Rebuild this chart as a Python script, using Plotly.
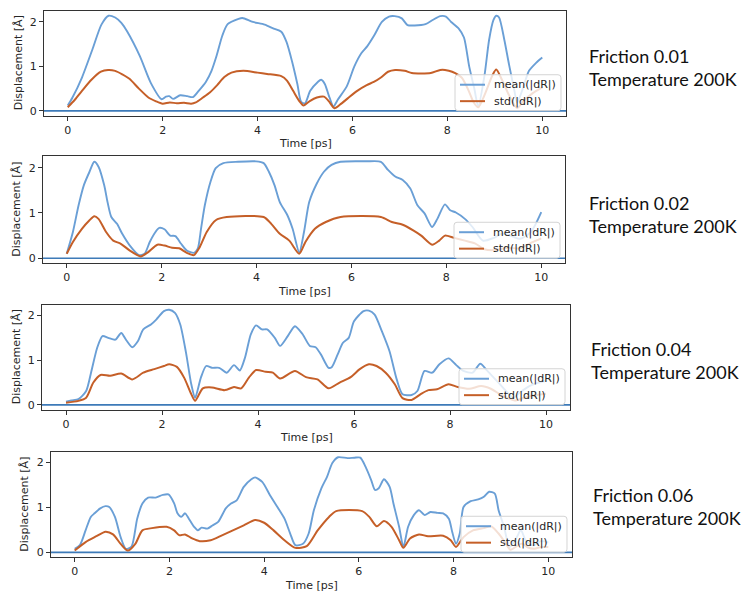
import plotly.graph_objects as go

W, H = 745, 595

# ---------------- data: mean / std of |dR| over time, four friction values ----------------
frictions = ["0.01", "0.02", "0.04", "0.06"]
temperature = "200K"
series_names = ["mean(|dR|)", "std(|dR|)"]

t_mean_001 = [0, 0.1, 0.3, 0.52, 0.71, 0.86, 1.0, 1.13, 1.25, 1.52, 1.75, 1.98, 2.07, 2.14, 2.22,
              2.37, 2.52, 2.64, 2.76, 2.91, 3.03, 3.14, 3.26, 3.37, 3.6, 3.68, 3.9, 4.15, 4.34, 4.5,
              4.61, 4.73, 4.84, 4.92, 5.0, 5.11, 5.27, 5.34, 5.42, 5.5, 5.6, 5.69, 5.88, 6.04, 6.19,
              6.31, 6.46, 6.62, 6.77, 6.89, 7.04, 7.16, 7.31, 7.54, 7.7, 7.85, 7.97, 8.08, 8.24,
              8.35, 8.46, 8.57, 8.65, 8.78, 8.88, 8.97, 9.03, 9.09, 9.2, 9.3, 9.41, 9.47, 9.58,
              9.72, 9.87, 10.0]
mean_001 = [0.12, 0.3, 0.75, 1.38, 1.94, 2.14, 2.1, 1.98, 1.79, 1.23, 0.63, 0.26, 0.32, 0.33, 0.27,
            0.35, 0.33, 0.31, 0.45, 0.65, 0.9, 1.25, 1.7, 1.95, 2.07, 2.09, 2.0, 1.94, 1.85, 1.78,
            1.55, 1.1, 0.6, 0.2, 0.17, 0.45, 0.65, 0.7, 0.6, 0.35, 0.1, 0.25, 0.55, 1.0, 1.3,
            1.45, 1.7, 2.0, 2.12, 2.13, 2.08, 1.93, 1.92, 1.95, 2.05, 2.13, 2.12, 2.0, 1.85,
            1.65, 1.0, 0.49, 0.1, 0.78, 1.6, 2.04, 2.14, 2.1, 1.6, 1.04, 0.47, 0.18, 0.47,
            0.9, 1.08, 1.2]
t_std_001 = [0, 0.15, 0.3, 0.5, 0.7, 0.85, 1.0, 1.15, 1.3, 1.5, 1.7, 1.85, 2.0, 2.15, 2.3, 2.45,
             2.6, 2.7, 2.85, 3.0, 3.15, 3.3, 3.45, 3.7, 4.0, 4.2, 4.5, 4.62, 4.75, 4.88, 4.97,
             5.1, 5.25, 5.4, 5.5, 5.62, 5.75, 5.9, 6.1, 6.3, 6.45, 6.6, 6.75, 6.9, 7.1, 7.25,
             7.45, 7.65, 7.85, 7.95, 8.1, 8.3, 8.45, 8.55, 8.65, 8.8, 8.95, 9.03, 9.15, 9.3,
             9.47, 9.6, 9.8, 10.0]
std_001 = [0.08, 0.25, 0.45, 0.7, 0.88, 0.92, 0.9, 0.82, 0.72, 0.5, 0.3, 0.22, 0.16, 0.19, 0.17,
           0.18, 0.16, 0.19, 0.3, 0.42, 0.58, 0.76, 0.86, 0.9, 0.86, 0.83, 0.78, 0.68, 0.45,
           0.22, 0.12, 0.22, 0.3, 0.32, 0.22, 0.06, 0.15, 0.28, 0.45, 0.58, 0.65, 0.75, 0.88,
           0.92, 0.9, 0.85, 0.84, 0.85, 0.92, 0.92, 0.88, 0.75, 0.45, 0.2, 0.08, 0.4, 0.8,
           0.93, 0.7, 0.35, 0.06, 0.22, 0.4, 0.53]

t_mean_002 = [0, 0.13, 0.25, 0.36, 0.48, 0.58, 0.67, 0.79, 0.86, 0.94, 1.06, 1.17, 1.33, 1.52,
              1.64, 1.75, 1.87, 1.95, 2.06, 2.18, 2.29, 2.41, 2.53, 2.68, 2.76, 2.83, 2.91, 3.03,
              3.14, 3.3, 3.61, 3.99, 4.15, 4.26, 4.38, 4.49, 4.65, 4.76, 4.9, 5.0, 5.11, 5.27,
              5.42, 5.58, 5.77, 6.31, 6.62, 6.77, 6.93, 7.08, 7.24, 7.39, 7.54, 7.7, 7.81, 7.97,
              8.08, 8.2, 8.39, 8.55, 8.77, 9.0, 9.17, 9.35, 9.55, 9.78, 10.0]
mean_002 = [0.1, 0.58, 1.17, 1.61, 1.91, 2.13, 2.02, 1.61, 1.24, 0.91, 0.76, 0.54, 0.28, 0.07,
            0.1, 0.36, 0.58, 0.67, 0.64, 0.5, 0.49, 0.32, 0.17, 0.12, 0.21, 0.65, 1.17, 1.69,
            1.99, 2.1, 2.13, 2.14, 2.1, 1.91, 1.61, 1.24, 0.95, 0.65, 0.13, 0.58, 1.24, 1.65,
            1.91, 2.06, 2.13, 2.14, 2.13, 1.95, 1.8, 1.73, 1.54, 1.17, 0.99, 0.69, 0.87, 1.19,
            1.06, 1.01, 0.87, 0.69, 0.39, 0.45, 0.54, 0.5, 0.43, 0.58, 1.02]
t_std_002 = [0, 0.13, 0.32, 0.48, 0.58, 0.67, 0.83, 0.98, 1.14, 1.33, 1.56, 1.71, 1.91, 2.06,
             2.22, 2.37, 2.53, 2.68, 2.8, 2.95, 3.14, 3.37, 4.15, 4.31, 4.49, 4.69, 4.9, 5.03,
             5.23, 5.46, 5.77, 6.62, 6.85, 7.08, 7.31, 7.47, 7.7, 7.85, 7.97, 8.16, 8.39, 8.6,
             8.8, 9.0, 9.3, 9.55, 9.8, 10.0]
std_002 = [0.1, 0.36, 0.65, 0.84, 0.93, 0.87, 0.58, 0.39, 0.32, 0.17, 0.04, 0.13, 0.3, 0.28,
           0.23, 0.22, 0.12, 0.07, 0.24, 0.58, 0.84, 0.91, 0.91, 0.76, 0.54, 0.39, 0.1, 0.36,
           0.65, 0.8, 0.91, 0.91, 0.8, 0.74, 0.61, 0.5, 0.3, 0.39, 0.5, 0.45, 0.39, 0.33,
           0.2, 0.18, 0.23, 0.22, 0.35, 0.44]

t_mean_004 = [0, 0.11, 0.26, 0.42, 0.53, 0.65, 0.76, 0.88, 1.03, 1.15, 1.26, 1.38, 1.5, 1.61,
              1.77, 1.88, 2.04, 2.15, 2.27, 2.38, 2.5, 2.61, 2.69, 2.81, 2.92, 3.04, 3.19, 3.35,
              3.5, 3.62, 3.73, 3.85, 3.96, 4.08, 4.19, 4.35, 4.46, 4.62, 4.77, 4.93, 5.08, 5.2,
              5.31, 5.47, 5.54, 5.66, 5.77, 5.89, 6.0, 6.2, 6.31, 6.43, 6.58, 6.74, 6.89, 7.01,
              7.2, 7.32, 7.47, 7.63, 7.78, 7.97, 8.13, 8.28, 8.47, 8.63, 8.78, 9.05, 9.32, 9.48,
              9.71, 10.0]
mean_004 = [0.07, 0.1, 0.13, 0.31, 0.76, 1.28, 1.54, 1.5, 1.46, 1.61, 1.44, 1.29, 1.43, 1.69,
            1.8, 1.91, 2.1, 2.13, 2.06, 1.8, 1.17, 0.46, 0.16, 0.61, 0.87, 0.83, 0.83, 0.72,
            0.89, 0.77, 1.06, 1.58, 1.78, 1.69, 1.69, 1.5, 1.32, 1.54, 1.76, 1.58, 1.32, 1.29,
            1.13, 0.83, 0.85, 1.13, 1.39, 1.5, 1.87, 2.1, 2.11, 2.02, 1.65, 1.2, 0.57, 0.24,
            0.22, 0.31, 0.76, 0.72, 0.91, 1.04, 0.89, 0.76, 0.72, 0.92, 0.76, 0.45, 0.16, 0.3,
            0.45, 0.54]
t_std_004 = [0, 0.26, 0.42, 0.57, 0.72, 0.92, 1.15, 1.38, 1.61, 1.84, 2.04, 2.15, 2.31, 2.46,
             2.61, 2.69, 2.85, 3.04, 3.31, 3.5, 3.65, 3.81, 3.96, 4.16, 4.31, 4.46, 4.77, 5.0,
             5.24, 5.47, 5.7, 5.93, 6.12, 6.31, 6.47, 6.66, 6.85, 7.01, 7.2, 7.39, 7.55, 7.73,
             7.97, 8.16, 8.4, 8.65, 8.85, 9.1, 9.35, 9.55, 9.8, 10.0]
std_004 = [0.05, 0.09, 0.16, 0.5, 0.67, 0.65, 0.7, 0.57, 0.72, 0.8, 0.87, 0.91, 0.85, 0.61,
           0.24, 0.09, 0.37, 0.39, 0.33, 0.4, 0.37, 0.61, 0.78, 0.74, 0.72, 0.59, 0.76, 0.62,
           0.57, 0.37, 0.5, 0.62, 0.8, 0.91, 0.87, 0.72, 0.46, 0.15, 0.11, 0.24, 0.33, 0.35,
           0.46, 0.4, 0.36, 0.42, 0.36, 0.2, 0.1, 0.16, 0.22, 0.25]

t_mean_006 = [0, 0.11, 0.23, 0.34, 0.42, 0.54, 0.65, 0.73, 0.85, 0.97, 1.08, 1.2, 1.32, 1.43,
              1.55, 1.71, 1.86, 1.98, 2.1, 2.17, 2.25, 2.33, 2.41, 2.52, 2.6, 2.68, 2.8, 2.91,
              3.03, 3.19, 3.3, 3.42, 3.57, 3.73, 3.81, 3.96, 4.12, 4.28, 4.43, 4.55, 4.66, 4.82,
              4.94, 5.05, 5.21, 5.33, 5.44, 5.56, 5.76, 5.91, 6.03, 6.14, 6.26, 6.34, 6.42, 6.53,
              6.65, 6.73, 6.85, 6.94, 7.04, 7.16, 7.27, 7.39, 7.51, 7.66, 7.78, 7.9, 7.97, 8.05,
              8.13, 8.21, 8.36, 8.52, 8.64, 8.75, 8.87, 8.95, 9.07, 9.18, 9.34, 9.42, 9.53, 9.69,
              9.84, 10.0]
mean_006 = [0.08, 0.16, 0.49, 0.79, 0.87, 0.98, 1.03, 1.01, 0.79, 0.34, 0.08, 0.13, 0.75, 1.09,
            1.22, 1.22, 1.28, 1.29, 1.09, 0.87, 0.79, 0.87, 0.75, 0.57, 0.49, 0.55, 0.53, 0.6,
            0.68, 0.98, 1.09, 1.16, 1.46, 1.63, 1.67, 1.57, 1.28, 1.01, 0.75, 0.42, 0.16, 0.19,
            0.42, 0.94, 1.43, 1.69, 1.99, 2.12, 2.1, 2.11, 2.11, 1.91, 1.61, 1.39, 1.43, 1.63,
            1.46, 1.09, 0.57, 0.12, 0.57, 0.83, 0.94, 0.83, 0.9, 0.88, 0.87, 0.75, 0.46, 0.19,
            0.42, 1.01, 1.14, 1.18, 1.24, 1.35, 1.31, 0.94, 0.55, 0.12, 0.35, 0.5, 0.25, 0.15,
            0.25, 0.22]
t_std_006 = [0, 0.23, 0.46, 0.65, 0.81, 0.97, 1.12, 1.28, 1.43, 1.63, 1.94, 2.1, 2.21, 2.33,
             2.48, 2.64, 2.87, 3.11, 3.34, 3.57, 3.81, 4.0, 4.2, 4.43, 4.66, 4.9, 5.13, 5.37,
             5.52, 6.07, 6.22, 6.38, 6.53, 6.69, 6.85, 6.94, 7.08, 7.27, 7.46, 7.78, 7.94, 8.05,
             8.21, 8.41, 8.64, 8.79, 8.95, 9.1, 9.2, 9.35, 9.45, 9.55, 9.7, 9.85, 10.0]
std_006 = [0.04, 0.23, 0.36, 0.46, 0.4, 0.19, 0.04, 0.19, 0.49, 0.54, 0.57, 0.49, 0.38, 0.4,
           0.31, 0.25, 0.27, 0.38, 0.49, 0.6, 0.72, 0.66, 0.49, 0.27, 0.1, 0.14, 0.49, 0.79,
           0.92, 0.92, 0.79, 0.58, 0.7, 0.57, 0.27, 0.1, 0.31, 0.4, 0.36, 0.37, 0.27, 0.12,
           0.34, 0.49, 0.54, 0.58, 0.42, 0.2, 0.06, 0.15, 0.2, 0.12, 0.08, 0.12, 0.12]

baseline = 0.0
x_ticks = [0, 2, 4, 6, 8, 10]
y_ticks = [0, 1, 2]

panels = [
    (t_mean_001, mean_001, t_std_001, std_001),
    (t_mean_002, mean_002, t_std_002, std_002),
    (t_mean_004, mean_004, t_std_004, std_004),
    (t_mean_006, mean_006, t_std_006, std_006),
]

# ---------------- layout geometry (pixels) ----------------
# axes box: left, right, top, bottom
boxes = [(44, 566, 11, 116), (43, 565, 157, 264), (42, 570, 306, 411), (51, 572, 454, 559)]
label_pos = [(587, 68), (587, 215), (589, 362), (591, 508)]        # left, centre
LEG_W, LEG_H = 106, 36

MEAN_C = "#6a9fd6"
STD_C = "#c55f28"
ZERO_C = "#3d7ab8"
AX_C = "#333333"
TXT_C = "#262626"
MPL_FONT = "DejaVu Sans"

fig = go.Figure()
layout = dict(
    width=W, height=H,
    margin=dict(l=0, r=0, t=0, b=0),
    paper_bgcolor="white", plot_bgcolor="white",
    showlegend=False,
    annotations=[], shapes=[],
)


def px(x):
    return x / W


def py(y):
    return 1 - y / H


def xd(a, b):
    return [px(a), px(b)]


def yd(top, bottom):
    return [py(bottom), py(top)]


def rounded_box(l, t, r, b, rad=3):
    """SVG path (paper units) of a rectangle with rounded corners."""
    pts = [
        ("M", (l + rad, t)), ("L", (r - rad, t)), ("Q", (r, t), (r, t + rad)),
        ("L", (r, b - rad)), ("Q", (r, b), (r - rad, b)), ("L", (l + rad, b)),
        ("Q", (l, b), (l, b - rad)), ("L", (l, t + rad)), ("Q", (l, t), (l + rad, t)),
    ]
    out = []
    for cmd, *coords in pts:
        out.append(cmd + " " + " ".join(f"{px(x):.5f},{py(y):.5f}" for x, y in coords))
    return " ".join(out) + " Z"


for i, ((tm, m, ts, s), (l, r, tp, bt)) in enumerate(zip(panels, boxes)):
    n = "" if i == 0 else str(i + 1)
    xa, ya = "x" + n, "y" + n
    fig.add_trace(go.Scatter(x=tm, y=m, mode="lines", name=series_names[0],
                             line=dict(color=MEAN_C, width=1.9, shape="spline", smoothing=0.7),
                             xaxis=xa, yaxis=ya))
    fig.add_trace(go.Scatter(x=ts, y=s, mode="lines", name=series_names[1],
                             line=dict(color=STD_C, width=2.0, shape="spline", smoothing=0.7),
                             xaxis=xa, yaxis=ya))

    ymax = max(max(m), max(s))
    ymin = min(baseline, min(m), min(s))
    pad = 0.05 * (ymax - ymin)
    xmin, xmax = min(tm + ts), max(tm + ts)
    xpad = 0.05 * (xmax - xmin)

    common = dict(showgrid=False, zeroline=False, showline=True, mirror=True,
                  linecolor=AX_C, linewidth=1, ticks="outside", ticklen=4, tickwidth=1,
                  tickcolor=AX_C, tickfont=dict(family=MPL_FONT, size=11, color=TXT_C))
    layout["xaxis" + n] = dict(domain=xd(l, r), anchor=ya, range=[xmin - xpad, xmax + xpad],
                               tickvals=x_ticks, **common)
    layout["yaxis" + n] = dict(domain=yd(tp, bt), anchor=xa, range=[ymin - pad, ymax + pad],
                               tickvals=y_ticks, **common)

    # horizontal reference line at zero displacement
    layout["shapes"].append(dict(type="line", xref=xa + " domain", x0=0, x1=1,
                                 yref=ya, y0=baseline, y1=baseline,
                                 line=dict(color=ZERO_C, width=1.6), layer="below"))

    # legend box in the lower right corner of the axes (semi-transparent white)
    lr, lb = r - 5, bt - 5
    ll, lt = lr - LEG_W, lb - LEG_H
    layout["shapes"].append(dict(type="path", xref="paper", yref="paper",
                                 path=rounded_box(ll, lt, lr, lb),
                                 fillcolor="rgba(255,255,255,0.8)",
                                 line=dict(color="#d4d4d4", width=1), layer="above"))
    for k, (name, col) in enumerate(zip(series_names, [MEAN_C, STD_C])):
        yy = lt + 10 + 16.5 * k
        layout["shapes"].append(dict(type="line", xref="paper", yref="paper",
                                     x0=px(ll + 5), x1=px(ll + 30), y0=py(yy), y1=py(yy),
                                     line=dict(color=col, width=2), layer="above"))
        layout["annotations"].append(dict(
            text=name, showarrow=False, xref="paper", yref="paper",
            x=px(ll + 37), y=py(yy), xanchor="left", yanchor="middle",
            font=dict(family=MPL_FONT, size=11, color=TXT_C)))

    # axis titles
    layout["annotations"].append(dict(
        text="Displacement [Å]", textangle=-90, showarrow=False,
        xref="paper", yref="paper", x=px(l - 26), y=py((tp + bt) / 2),
        xanchor="center", yanchor="middle",
        font=dict(family=MPL_FONT, size=11, color=TXT_C)))
    layout["annotations"].append(dict(
        text="Time [ps]", showarrow=False,
        xref="paper", yref="paper", x=px((l + r) / 2), y=py(bt + 28),
        xanchor="center", yanchor="middle",
        font=dict(family=MPL_FONT, size=11, color=TXT_C)))

    # run description on the right
    lx, ly = label_pos[i]
    layout["annotations"].append(dict(
        text=f"Friction {frictions[i]}<br>Temperature {temperature}", showarrow=False,
        xref="paper", yref="paper", x=px(lx), y=py(ly),
        xanchor="left", yanchor="middle", align="left",
        font=dict(family="Lato", size=18, color="#111111")))

fig.update_layout(**layout)
fig.write_html("out.html")
